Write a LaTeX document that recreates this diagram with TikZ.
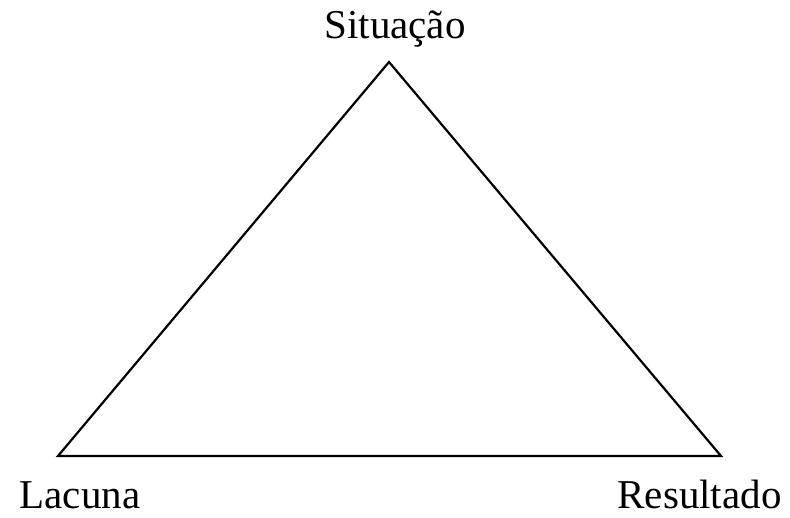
\documentclass[tikz,border=0pt]{standalone}
\usepackage{fontspec}
\setmainfont{Liberation Serif}
\begin{document}
\begin{tikzpicture}[x=1pt,y=1pt,
  lbl/.style={anchor=base,inner sep=0pt,font=\fontsize{41}{49}\selectfont},
  edge/.style={line width=2.2pt,line join=miter}]
\useasboundingbox (0,0) rectangle (790,517);
\coordinate (top) at (389,455);
\coordinate (left) at (58,61);
\coordinate (right) at (721,61);
\draw[edge] (top) -- (right) -- (left) -- cycle;
\node[lbl] (sit) at (395,478) {Situação};
\node[lbl] (lac) at (80,9) {Lacuna};
\node[lbl] (res) at (699.5,9) {Resultado};
\end{tikzpicture}
\end{document}
